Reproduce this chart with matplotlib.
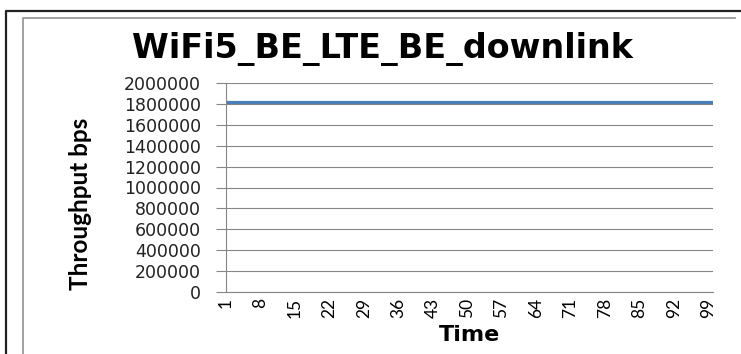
import numpy as np
import matplotlib.pyplot as plt
from matplotlib.lines import Line2D

# throughput samples (bps) over time steps 1..100
time = np.arange(1, 101)
throughput = [
    1818000, 1818000, 1818000, 1818000, 1818000, 1818000, 1818000, 1818000, 1818000, 1818000,
    1818000, 1818000, 1818000, 1818000, 1818000, 1818000, 1818000, 1818000, 1818000, 1818000,
    1818000, 1818000, 1818000, 1818000, 1818000, 1818000, 1818000, 1818000, 1818000, 1818000,
    1818000, 1818000, 1818000, 1818000, 1818000, 1818000, 1818000, 1818000, 1818000, 1818000,
    1818000, 1818000, 1818000, 1818000, 1818000, 1818000, 1818000, 1818000, 1818000, 1818000,
    1818000, 1818000, 1818000, 1818000, 1818000, 1818000, 1818000, 1818000, 1818000, 1818000,
    1818000, 1818000, 1818000, 1818000, 1818000, 1818000, 1818000, 1818000, 1818000, 1818000,
    1818000, 1818000, 1818000, 1818000, 1818000, 1818000, 1818000, 1818000, 1818000, 1818000,
    1818000, 1818000, 1818000, 1818000, 1818000, 1818000, 1818000, 1818000, 1818000, 1818000,
    1818000, 1818000, 1818000, 1818000, 1818000, 1818000, 1818000, 1818000, 1818000, 1818000,
]
x_ticks = [1, 8, 15, 22, 29, 36, 43, 50, 57, 64, 71, 78, 85, 92, 99]
y_ticks = [0, 200000, 400000, 600000, 800000, 1000000, 1200000,
           1400000, 1600000, 1800000, 2000000]

W, H = 741, 354
fig = plt.figure(figsize=(W / 100, H / 100), dpi=100)

# frame lines around the chart
fig.add_artist(Line2D([6.3 / W, 6.3 / W, 1], [0, 1 - 10.5 / H, 1 - 10.5 / H],
                      transform=fig.transFigure, color="#222222", lw=1.6))
fig.add_artist(Line2D([23 / W, 23 / W, 735 / W], [0, 1 - 18.3 / H, 1 - 18.3 / H],
                      transform=fig.transFigure, color="#9a9a9a", lw=1.3))

ax = fig.add_axes([226 / W, 1 - 292 / H, (713 - 226) / W, (292 - 83) / H])
ax.plot(time, throughput, color="#4a7ebb", lw=2.3, solid_capstyle="butt")

ax.set_xlim(1, 100)
ax.set_ylim(0, 2000000)
ax.set_xticks(x_ticks)
ax.set_xticklabels([str(t) for t in x_ticks], rotation=90, family="Lato", fontsize=12.5)
ax.set_yticks(y_ticks)
ax.set_yticklabels([str(v) for v in y_ticks], family="DejaVu Sans", fontsize=12.5,
                   color="#222222")
ax.tick_params(axis="x", length=0, pad=4)
ax.tick_params(axis="y", length=7, width=0.8, color="#868686", pad=11)

ax.grid(axis="y", color="#868686", lw=0.8)
ax.set_axisbelow(True)
for side in ["top", "right"]:
    ax.spines[side].set_visible(False)
for side in ["left", "bottom"]:
    ax.spines[side].set_color("#868686")
    ax.spines[side].set_linewidth(0.8)

ax.set_ylabel("Throughput bps", family="Lato", fontweight="bold", fontsize=17.5)
ax.yaxis.set_label_coords(-0.275, 0.42)
ax.set_xlabel("Time", family="DejaVu Sans", fontweight="bold", fontsize=16, labelpad=5)

fig.text(382 / W, 1 - 58 / H, "WiFi5_BE_LTE_BE_downlink", ha="center", va="baseline",
         family="DejaVu Sans", fontweight="bold", fontsize=24)

fig.savefig("out.png", dpi=100)
